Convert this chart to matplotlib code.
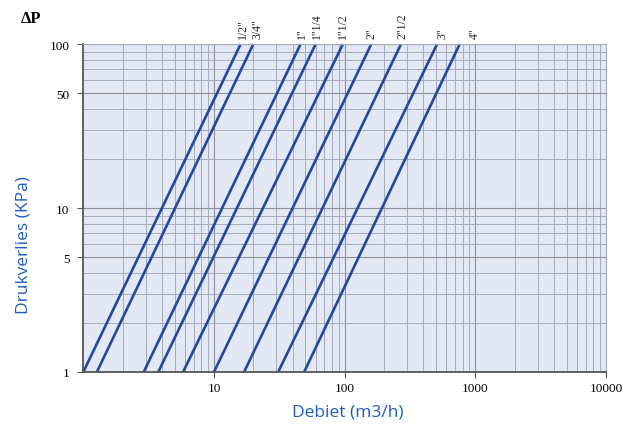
import matplotlib
matplotlib.use("Agg")
import matplotlib.pyplot as plt
from matplotlib.ticker import FixedLocator, FixedFormatter, NullFormatter, LogLocator

# pipe sizes and flow (m3/h) at dP = 1 kPa and dP = 100 kPa
sizes = ['1/2"', '3/4"', '1"', '1"1/4', '1"1/2', '2"', '2"1/2', '3"', '4"']
q_low = [1.0, 1.27, 2.9, 3.75, 5.8, 10, 17, 31, 49]
q_high = [16, 20, 46, 60, 97, 160, 270, 510, 760]
dp_range = [1, 100]

y_ticks = [1, 5, 10, 50, 100]
x_ticks = [10, 100, 1000, 10000]

LINE = "#2348a0"
BLUE = "#1f5cc0"
BG = "#e4e8f5"

fig = plt.figure(figsize=(6.37, 4.27), dpi=100)
ax = fig.add_axes([0.1308, 0.1265, 0.8205, 0.768])
ax.set_facecolor(BG)
ax.set_xscale("log")
ax.set_yscale("log")
ax.set_xlim(1, 10000)
ax.set_ylim(1, 100)

ax.xaxis.set_minor_locator(LogLocator(base=10, subs=range(2, 10)))
ax.yaxis.set_minor_locator(LogLocator(base=10, subs=range(2, 10)))
ax.grid(which="major", color="#8e909c", lw=0.8)
ax.grid(which="minor", color="#a8abba", lw=0.7)
ax.set_axisbelow(True)

for q0, q1 in zip(q_low, q_high):
    ax.plot([q0, q1], dp_range, color=LINE, lw=1.9, solid_capstyle="butt", clip_on=False)

# labels on top of each line
offsets = [2, 3, 1, 1, 0, 0, 1, 4, 11]
for lab, q1, off in zip(sizes, q_high, offsets):
    ax.annotate(lab, (q1, 100), xytext=(off, 4), textcoords="offset points",
                rotation=90, ha="center", va="bottom", fontsize=8.5,
                family="Liberation Serif", color="#222")

ax.yaxis.set_major_locator(FixedLocator(y_ticks))
ax.yaxis.set_major_formatter(FixedFormatter([str(v) for v in y_ticks]))
ax.yaxis.set_minor_formatter(NullFormatter())
ax.xaxis.set_major_locator(FixedLocator(x_ticks))
ax.xaxis.set_major_formatter(FixedFormatter([str(v) for v in x_ticks]))
ax.xaxis.set_minor_formatter(NullFormatter())
ax.tick_params(which="minor", length=0)
ax.tick_params(which="major", length=4, width=0.8, color="#555", labelsize=9.5)
ax.tick_params(axis="x", pad=3)
ax.tick_params(axis="y", pad=6)
for t in ax.get_xticklabels() + ax.get_yticklabels():
    t.set_family("Liberation Serif")

for s in ["left", "bottom"]:
    ax.spines[s].set_color("#555")
    ax.spines[s].set_linewidth(1.3)
for s in ["top", "right"]:
    ax.spines[s].set_color("#a8abba")
    ax.spines[s].set_linewidth(0.8)

ax.set_xlabel("Debiet (m3/h)", color=BLUE, fontsize=12.5, family="Open Sans")
ax.xaxis.set_label_coords(0.505, -0.095)
ax.set_ylabel("Drukverlies (KPa)", color=BLUE, fontsize=12.5, family="Open Sans")
ax.yaxis.set_label_coords(-0.1, 0.39)

fig.text(0.033, 0.955, "ΔP", fontsize=12, fontweight="bold", family="Liberation Serif",
         ha="left", va="center")

fig.savefig("out.png", dpi=100, facecolor="white")
